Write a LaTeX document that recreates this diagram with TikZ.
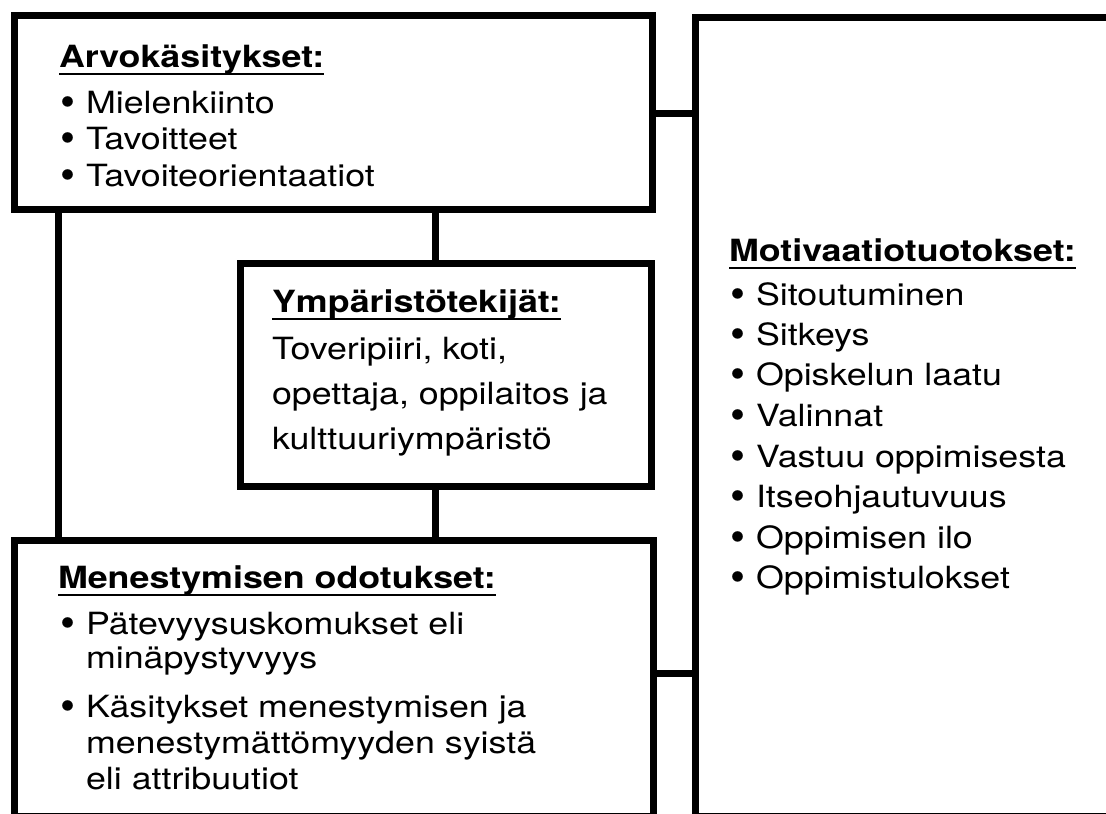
\documentclass[tikz,border=0pt]{standalone}
\usepackage{fontspec}
\usepackage{graphicx}
\setmainfont{TeX Gyre Heros}[FakeStretch=1.17]
\newcommand\hdul[1]{\setbox0=\hbox{#1}\rlap{\rule[-8.3pt]{\wd0}{2.6pt}}\box0}
\newcommand\bul{\makebox[26pt][l]{\smash{\raisebox{-3.9pt}{\scalebox{1.2}[1.38]{\textbullet}}}}}
\begin{document}
\begin{tikzpicture}[x=1pt,y=-1pt,
  box/.style={draw, line width=7pt, rectangle, inner sep=0pt, outer sep=0pt, fill=white},
  conn/.style={line width=7pt},
  txt/.style={anchor=base west, inner sep=0pt, outer sep=0pt, font=\fontsize{30.6pt}{36pt}\selectfont},
  head/.style={txt, font=\fontsize{30.6pt}{36pt}\selectfont\bfseries}]
\clip (0,0) rectangle (1106,814);
\fill[white] (0,0) rectangle (1106,814);
% boxes
\node[box, minimum width=638pt, minimum height=194pt] (arvo) at (333,112) {};
\node[box, minimum width=411pt, minimum height=223pt] (ymp) at (445.5,374.5) {};
\node[box, minimum width=639pt, minimum height=276pt] (men) at (333.5,678) {};
\node[box, minimum width=421pt, minimum height=799pt] (mot) at (905.5,416.5) {};
% connectors
\draw[conn] ([xshift=44pt]arvo.south west) -- ([xshift=44pt]men.north west);
\draw[conn] ([xshift=195pt]ymp.north west) coordinate (m1) -- (m1 |- arvo.south);
\draw[conn] ([xshift=195pt]ymp.south west) coordinate (m2) -- (m2 |- men.north);
\draw[conn] ([yshift=-98pt]arvo.north east) coordinate (h1) -- (h1 -| mot.west);
\draw[conn] ([yshift=-133pt]men.north east) coordinate (h2) -- (h2 -| mot.west);
% texts: Arvokasitykset
\node[head] (t1h) at (59,67) {\hdul{Arvokäsitykset:}};
\node[txt] (t1a) at (60,113) {\bul Mielenkiinto};
\node[txt] (t1b) at (60,149) {\bul Tavoitteet};
\node[txt] (t1c) at (60,186) {\bul Tavoiteorientaatiot};
% Ymparistotekijat
\node[head] (t2h) at (272,312) {\hdul{Ympäristötekijät:}};
\node[txt] (t2a) at (272,359) {Toveripiiri, koti,};
\node[txt] (t2b) at (272,404) {opettaja, oppilaitos ja};
\node[txt] (t2c) at (272,449) {kulttuuriympäristö};
% Menestymisen odotukset
\node[head] (t3h) at (58,588) {\hdul{Menestymisen odotukset:}};
\node[txt] (t3a) at (60,634) {\bul Pätevyysuskomukset eli};
\node[txt] (t3b) at (86,668) {minäpystyvyys};
\node[txt] (t3c) at (60,717) {\bul Käsitykset menestymisen ja};
\node[txt] (t3d) at (86,753) {menestymättömyyden syistä};
\node[txt] (t3e) at (86,789) {eli attribuutiot};
% Motivaatiotuotokset
\node[head] (t4h) at (729,261) {\hdul{Motivaatiotuotokset:}};
\node[txt] (t4a) at (730,305) {\bul Sitoutuminen};
\node[txt] (t4b) at (730,345) {\bul Sitkeys};
\node[txt] (t4c) at (730,385) {\bul Opiskelun laatu};
\node[txt] (t4d) at (730,426) {\bul Valinnat};
\node[txt] (t4e) at (730,467) {\bul Vastuu oppimisesta};
\node[txt] (t4f) at (730,507) {\bul Itseohjautuvuus};
\node[txt] (t4g) at (730,548) {\bul Oppimisen ilo};
\node[txt] (t4h) at (730,588) {\bul Oppimistulokset};
\end{tikzpicture}
\end{document}
